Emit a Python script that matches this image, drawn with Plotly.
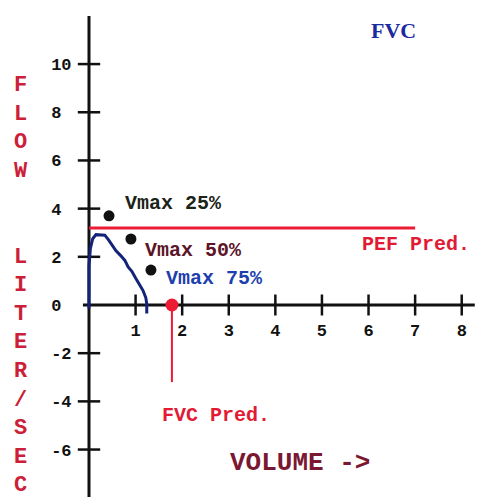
import plotly.graph_objects as go

# ---- data ----
curve_volume = [0.0, 0.0, 0.03, 0.08, 0.15, 0.22, 0.34, 0.42, 0.50, 0.58, 0.68, 0.77, 0.84, 0.92, 1.00, 1.08, 1.16, 1.22, 1.24, 1.24]
curve_flow = [-0.15, 1.6, 2.35, 2.75, 2.92, 2.92, 2.90, 2.70, 2.45, 2.25, 2.05, 1.85, 1.58, 1.40, 1.12, 0.85, 0.60, 0.30, 0.05, -0.35]

vmax_labels = ["Vmax 25%", "Vmax 50%", "Vmax 75%"]
vmax_volume = [0.43, 0.90, 1.33]
vmax_flow = [3.70, 2.74, 1.45]

pef_pred_flow = 3.2
pef_pred_volume = [0.0, 7.0]
fvc_pred_volume = 1.78
fvc_pred_flow = [0.0, -3.2]

x_tick_vals = [1, 2, 3, 4, 5, 6, 7, 8]
y_tick_vals = [10, 8, 6, 4, 2, 0, -2, -4, -6]
y_tick_text = ["10", "8", "6", "4", "2", "0", "-2", "-4", "-6"]
y_tick_marks = [10, 8, 6, 4, 2, -2, -4, -6]

x_axis_extent = [-0.13, 8.28]
y_axis_extent = [-7.97, 12.0]
x_range = [-1.91, 8.65]
y_range = [-8.26, 12.66]

MONO = "Liberation Mono"
AXIS_C = "#111111"

fig = go.Figure()

# axes lines
fig.add_trace(go.Scatter(x=x_axis_extent, y=[0, 0], mode="lines",
                         line=dict(color=AXIS_C, width=3), hoverinfo="skip"))
fig.add_trace(go.Scatter(x=[0, 0], y=y_axis_extent, mode="lines",
                         line=dict(color=AXIS_C, width=3), hoverinfo="skip"))
# crossing tick marks
fig.add_trace(go.Scatter(x=x_tick_vals, y=[0] * len(x_tick_vals), mode="markers",
                         marker=dict(symbol="line-ns", size=15, line=dict(color=AXIS_C, width=2.5)),
                         hoverinfo="skip"))
fig.add_trace(go.Scatter(x=[0] * len(y_tick_marks), y=y_tick_marks, mode="markers",
                         marker=dict(symbol="line-ew", size=16, line=dict(color=AXIS_C, width=2.5)),
                         hoverinfo="skip"))

# PEF predicted line
fig.add_trace(go.Scatter(x=pef_pred_volume, y=[pef_pred_flow] * 2, mode="lines",
                         line=dict(color="#ec1c34", width=3), hoverinfo="skip"))
# FVC predicted line and dot
fig.add_trace(go.Scatter(x=[fvc_pred_volume] * 2, y=fvc_pred_flow, mode="lines",
                         line=dict(color="#ec1c34", width=2), hoverinfo="skip"))
fig.add_trace(go.Scatter(x=[fvc_pred_volume], y=[fvc_pred_flow[0]], mode="markers",
                         marker=dict(color="#ec1c34", size=13), hoverinfo="skip"))

# flow-volume curve
fig.add_trace(go.Scatter(x=curve_volume, y=curve_flow, mode="lines",
                         line=dict(color="#14237a", width=3), hoverinfo="skip"))

# Vmax points
fig.add_trace(go.Scatter(x=vmax_volume, y=vmax_flow, mode="markers",
                         marker=dict(color="#111111", size=11), hoverinfo="skip"))

label_colors = ["#1c2418", "#5c1428", "#1e3fae"]
label_dx = [0.29, 0.25, 0.29]
label_dy = [0.53, -0.46, -0.37]
for lab, vx, vy, c, dx, dy in zip(vmax_labels, vmax_volume, vmax_flow, label_colors, label_dx, label_dy):
    fig.add_annotation(x=vx + dx, y=vy + dy, text=lab, showarrow=False, xanchor="left",
                       font=dict(family=MONO, size=20, color=c, weight=700))

fig.add_annotation(x=5.82, y=2.5, text="PEF Pred.", showarrow=False, xanchor="left",
                   font=dict(family=MONO, size=20, color="#e21a34", weight=700))
fig.add_annotation(x=1.52, y=-4.6, text="FVC Pred.", showarrow=False, xanchor="left",
                   font=dict(family=MONO, size=20, color="#e21a34", weight=700))
fig.add_annotation(x=2.98, y=-6.55, text="VOLUME ->", showarrow=False, xanchor="left",
                   font=dict(family=MONO, size=26, color="#7a1832", weight=700))
fig.add_annotation(x=6.53, y=11.4, text="FVC", showarrow=False, xanchor="center",
                   font=dict(family="Liberation Serif", size=22, color="#1a2aa0", weight=700))

# vertical axis title
title_letters = ["F", "L", "O", "W", "", "", "L", "I", "T", "E", "R", "/", "S", "E", "C"]
fig.add_annotation(xref="paper", yref="paper", x=0.042, y=0.433,
                   text="<br>".join(l if l else "\u00a0" for l in title_letters),
                   showarrow=False, xanchor="center", yanchor="middle", align="center",
                   font=dict(family=MONO, size=22, color="#cc2038", weight=700))

x_pos = (0 - y_range[0]) / (y_range[1] - y_range[0])
y_pos = (0 - x_range[0]) / (x_range[1] - x_range[0])

fig.update_layout(
    width=492, height=504,
    margin=dict(l=0, r=0, t=0, b=0),
    paper_bgcolor="white", plot_bgcolor="white",
    showlegend=False,
    xaxis=dict(range=x_range, anchor="free", position=x_pos, showgrid=False, zeroline=False,
               showline=False, tickvals=x_tick_vals, ticks="outside", ticklen=10,
               tickcolor="rgba(0,0,0,0)", tickfont=dict(family=MONO, size=17, color=AXIS_C, weight=700)),
    yaxis=dict(range=y_range, anchor="free", position=y_pos, showgrid=False, zeroline=False,
               showline=False, tickvals=y_tick_vals,
               ticktext=[t if len(t) == 2 else t + "\u00a0" for t in y_tick_text],
               ticks="outside", ticklen=14,
               tickcolor="rgba(0,0,0,0)", tickfont=dict(family=MONO, size=17, color=AXIS_C, weight=700)),
)

fig.write_html("out.html", config={"displayModeBar": False},
               post_script="document.body.style.margin='0';")
